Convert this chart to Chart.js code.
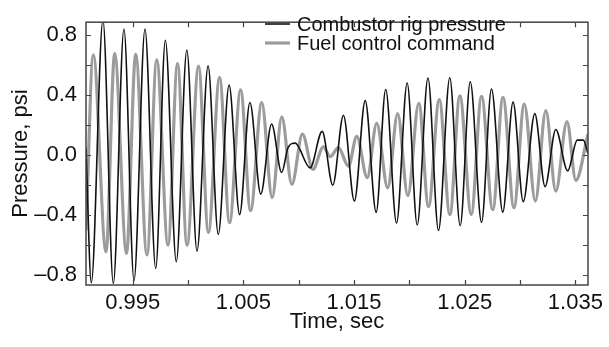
<!DOCTYPE html>
<html>
<head>
<meta charset="utf-8">
<script src="https://cdn.jsdelivr.net/npm/chart.js@4.4.0/dist/chart.umd.min.js"></script>
<style>
  html, body { margin: 0; padding: 0; background: #fff; }
  #wrap { width: 609px; height: 347px; }
</style>
</head>
<body>
<div id="wrap"><canvas id="chart" width="609" height="347"></canvas></div>
<script>
// --- DATA (peaks / troughs) ---

const timeRig = [
  0.99078, 0.99126, 0.99231, 0.99325, 0.99421, 0.99512, 0.99611, 0.99708, 0.99795, 0.99894,
  0.99989, 1.00081, 1.00181, 1.00273, 1.00371, 1.00466, 1.00559, 1.00657, 1.00755, 1.00846,
  1.00904, 1.00968, 1.01103, 1.01212, 1.01308, 1.01404, 1.01503, 1.01601, 1.01700, 1.01786,
  1.01884, 1.01980, 1.02071, 1.02168, 1.02263, 1.02365, 1.02459, 1.02550, 1.02652, 1.02742,
  1.02844, 1.02937, 1.03029, 1.03133, 1.03226, 1.03323, 1.03430, 1.03517, 1.03572, 1.03614
];
const pressureRig = [
  0.05, -0.85, 0.90, -0.855, 0.84, -0.835, 0.84, -0.755, 0.765, -0.71,
  0.70, -0.64, 0.594, -0.528, 0.466, -0.396, 0.35, -0.26, 0.207, -0.116,
  0.05, 0.08, -0.085, 0.158, -0.20, 0.265, -0.306, 0.363, -0.381, 0.437,
  -0.452, 0.48, -0.465, 0.513, -0.502, 0.515, -0.47, 0.488, -0.448, 0.44,
  -0.38, 0.353, -0.31, 0.276, -0.21, 0.17, -0.105, 0.10, 0.10, 0.01
];

const timeFuel = [
  0.99078, 0.99144, 0.99259, 0.99337, 0.99444, 0.99527, 0.99629, 0.99717, 0.99819, 0.99905,
  0.99991, 1.00095, 1.00184, 1.00285, 1.00375, 1.00475, 1.00565, 1.00666, 1.00760, 1.00847,
  1.00938, 1.01034, 1.01128, 1.01223, 1.01284, 1.01359, 1.01449, 1.01525, 1.01619, 1.01705,
  1.01804, 1.01894, 1.01986, 1.02085, 1.02173, 1.02270, 1.02366, 1.02456, 1.02559, 1.02652,
  1.02753, 1.02846, 1.02945, 1.03038, 1.03138, 1.03233, 1.03323, 1.03424, 1.03504, 1.03614
];
const commandFuel = [
  -0.50, 0.668, -0.645, 0.678, -0.655, 0.672, -0.665, 0.635, -0.60, 0.61,
  -0.60, 0.593, -0.515, 0.518, -0.45, 0.435, -0.37, 0.35, -0.284, 0.254,
  -0.195, 0.14, -0.095, 0.055, -0.01, 0.05, -0.074, 0.125, -0.15, 0.212,
  -0.218, 0.276, -0.27, 0.345, -0.343, 0.37, -0.396, 0.395, -0.395, 0.392,
  -0.364, 0.385, -0.35, 0.34, -0.306, 0.297, -0.24, 0.223, -0.168, 0.14
];

const xTicks = [0.995, 1.000, 1.005, 1.010, 1.015, 1.020, 1.025, 1.030, 1.035];
const xTickLabels = ['0.995', '', '1.005', '', '1.015', '', '1.025', '', '1.035'];
const yTicks = [-0.8, -0.6, -0.4, -0.2, 0, 0.2, 0.4, 0.6, 0.8];
const yTickLabels = ['\u20130.8', '', '\u20130.4', '', '0.0', '', '0.4', '', '0.8'];

const FONT = '"Liberation Sans", Arial, sans-serif';

function toPoints(xs, ys) {
  return xs.map((x, i) => ({ x: x, y: ys[i] }));
}

// --- frame, inward ticks and legend ---

const framePlugin = {
  id: 'frame',
  afterDatasetsDraw(chart) {
    const ctx = chart.ctx;
    const a = chart.chartArea;
    const xs = chart.scales.x;
    const ys = chart.scales.y;
    const len = 5;
    ctx.save();
    ctx.strokeStyle = '#444';
    ctx.lineWidth = 1.2;
    ctx.beginPath();
    xTicks.forEach(v => {
      const px = Math.round(xs.getPixelForValue(v)) + 0.5;
      ctx.moveTo(px, a.bottom); ctx.lineTo(px, a.bottom - len);
      ctx.moveTo(px, a.top); ctx.lineTo(px, a.top + len);
    });
    yTicks.forEach(v => {
      const py = Math.round(ys.getPixelForValue(v)) + 0.5;
      ctx.moveTo(a.left, py); ctx.lineTo(a.left + len, py);
      ctx.moveTo(a.right, py); ctx.lineTo(a.right - len, py);
    });
    ctx.stroke();
    ctx.lineWidth = 1.5;
    ctx.strokeRect(a.left, a.top, a.right - a.left, a.bottom - a.top);

    // legend, top right inside the plot
    const rows = chart.data.datasets;
    const lx = 265, tx = 297;
    let ly = 24;
    ctx.font = '20px ' + FONT;
    ctx.textBaseline = 'middle';
    ctx.textAlign = 'left';
    rows.forEach(ds => {
      ctx.strokeStyle = ds.borderColor;
      ctx.lineWidth = ds.borderWidth;
      ctx.beginPath();
      ctx.moveTo(lx, ly); ctx.lineTo(lx + 25, ly);
      ctx.stroke();
      ctx.fillStyle = '#111';
      ctx.fillText(ds.label, tx, ly + 1);
      ly += 19;
    });
    ctx.restore();
  }
};

new Chart(document.getElementById('chart'), {
  type: 'line',
  data: {
    datasets: [
      {
        label: 'Combustor rig pressure',
        data: toPoints(timeRig, pressureRig),
        borderColor: '#111111',
        borderWidth: 1.6,
        pointRadius: 0,
        cubicInterpolationMode: 'monotone',
        fill: false
      },
      {
        label: 'Fuel control command',
        data: toPoints(timeFuel, commandFuel),
        borderColor: '#9c9c9c',
        borderWidth: 3.2,
        pointRadius: 0,
        cubicInterpolationMode: 'monotone',
        fill: false
      }
    ]
  },
  options: {
    responsive: false,
    animation: false,
    devicePixelRatio: 1,
    layout: { padding: { top: 10, right: 21, left: 0, bottom: 0 } },
    plugins: { legend: { display: false }, tooltip: { enabled: false } },
    scales: {
      x: {
        type: 'linear',
        min: 0.99078,
        max: 1.03614,
        afterBuildTicks: s => { s.ticks = xTicks.map(v => ({ value: v })); },
        afterFit: s => { s.height = 62; },
        grid: { display: false, drawTicks: false },
        border: { display: false },
        ticks: {
          autoSkip: false,
          maxRotation: 0,
          padding: 5,
          color: '#111',
          font: { family: FONT, size: 22 },
          callback: (v, i) => xTickLabels[i]
        },
        title: {
          display: true,
          text: 'Time, sec',
          color: '#111',
          font: { family: FONT, size: 22 },
          padding: { top: 0, bottom: 12 }
        }
      },
      y: {
        min: -0.865,
        max: 0.885,
        afterBuildTicks: s => { s.ticks = yTicks.map(v => ({ value: v })); },
        afterFit: s => { s.width = 86; },
        grid: { display: false, drawTicks: false },
        border: { display: false },
        ticks: {
          autoSkip: false,
          padding: 9,
          color: '#111',
          font: { family: FONT, size: 22 },
          callback: (v, i) => yTickLabels[i]
        },
        title: {
          display: true,
          text: 'Pressure, psi',
          color: '#111',
          font: { family: FONT, size: 22 },
          padding: { top: 8, bottom: 0 }
        }
      }
    }
  },
  plugins: [framePlugin]
});
</script>
</body>
</html>
